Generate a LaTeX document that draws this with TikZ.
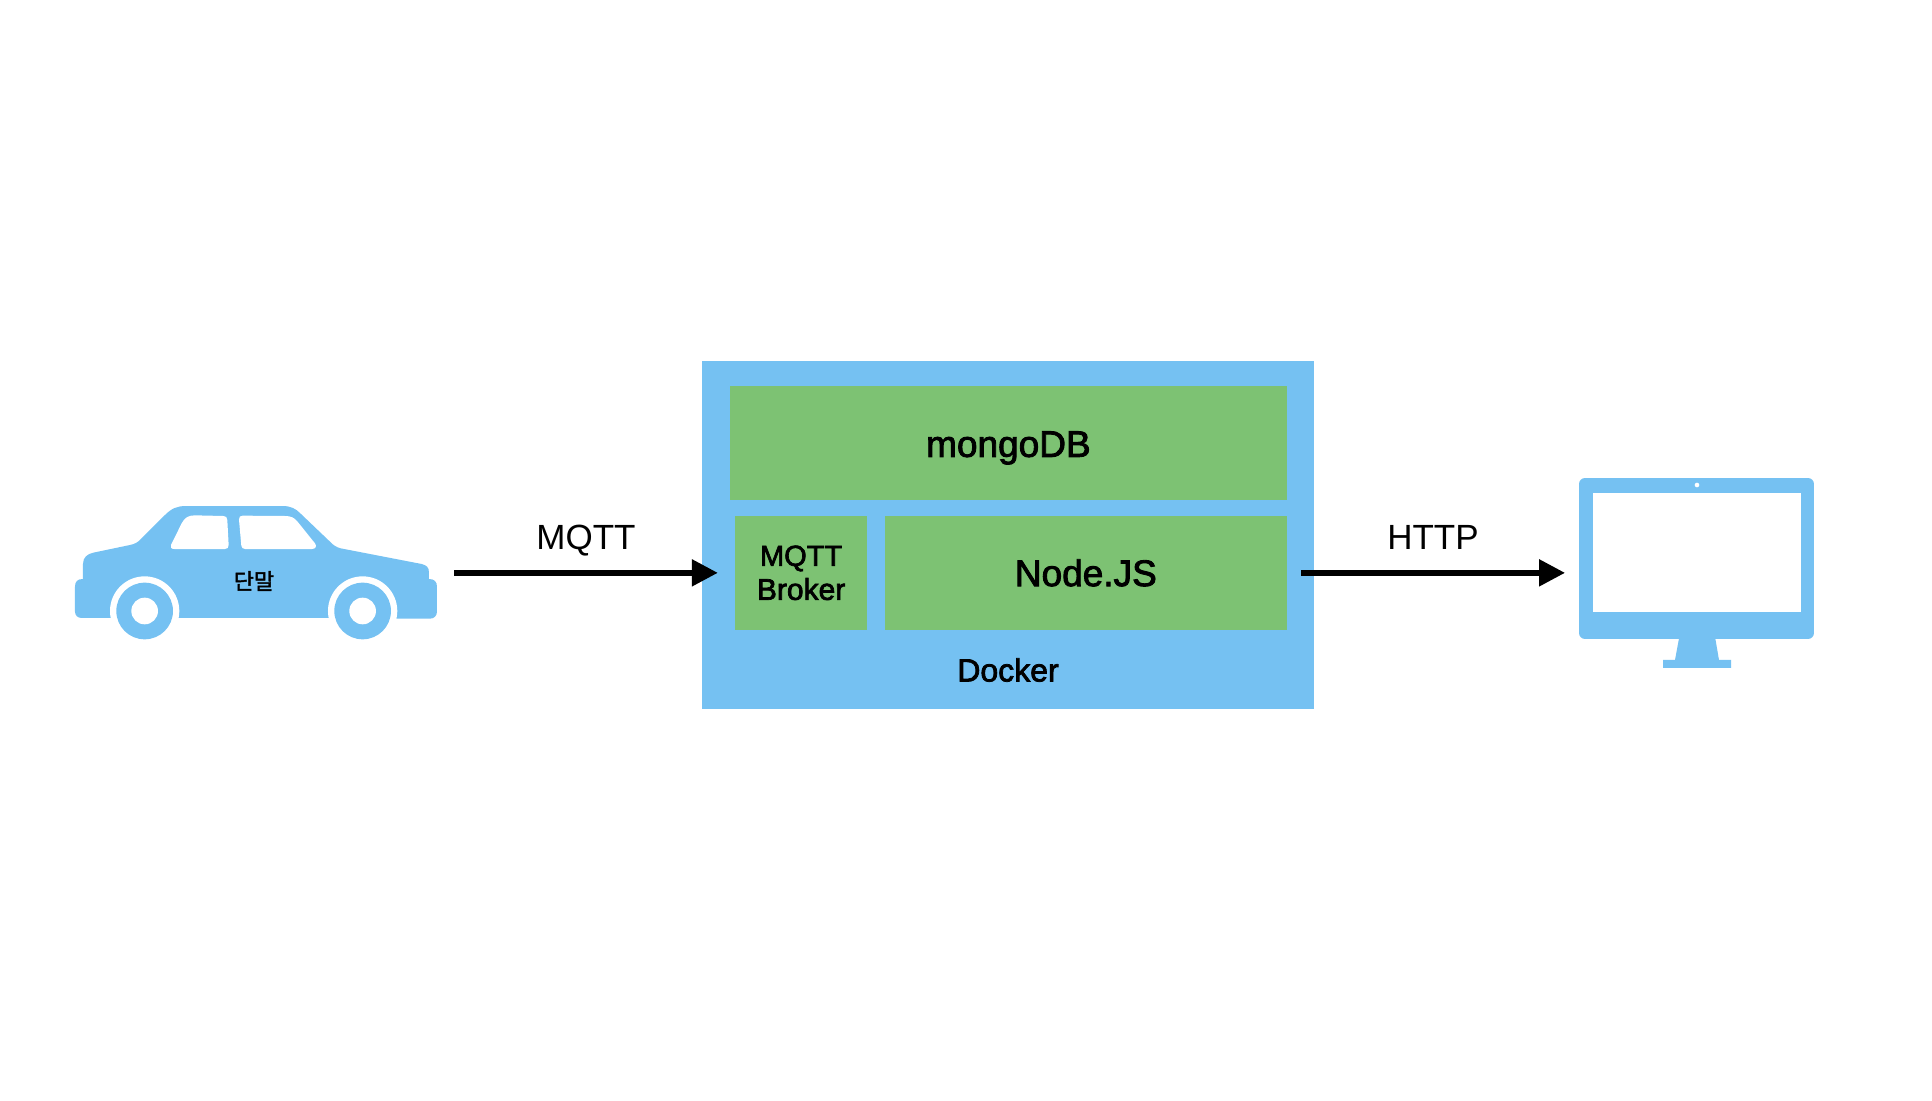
\documentclass[tikz,border=0pt]{standalone}
\usepackage{fontspec}
\usetikzlibrary{arrows.meta}
\setmainfont{Liberation Sans}
\newfontfamily\medfont[FakeBold=2.4]{Liberation Sans}
\newfontfamily\cjkfont[FakeBold=2]{Noto Sans CJK KR}
\definecolor{skyfill}{HTML}{75C1F2}
\definecolor{greenfill}{HTML}{7DC273}
\tikzset{
  panel/.style={fill=#1,draw=none,inner sep=0pt,outer sep=0pt,anchor=north west,text=black,align=center},
  ghost/.style={draw=none,fill=none,inner sep=0pt,outer sep=0pt,anchor=north west},
  label/.style={inner sep=0pt,outer sep=0pt,text=black,align=center},
  flow/.style={line width=5.3pt,draw=black,-{Triangle[length=26pt,width=26pt]}},
}
\begin{document}
\begin{tikzpicture}[x=1pt,y=-1pt]
\useasboundingbox[fill=white] (0,0) rectangle (1932,1100);
% Docker stack
\node[panel=skyfill,minimum width=611.5pt,minimum height=348pt] (docker) at (702.2,361) {};
\node[panel=greenfill,minimum width=556.8pt,minimum height=113.7pt,text height=28pt,text depth=0pt,font=\medfont\fontsize{37}{44}\selectfont] (mongo) at (730,386) {mongoDB};
\node[panel=greenfill,minimum width=132.2pt,minimum height=113.7pt,font=\medfont\fontsize{29}{34}\selectfont] (broker) at (735,516) {MQTT\\{\fontsize{30}{34}\selectfont Broker}};
\node[panel=greenfill,minimum width=401.9pt,minimum height=113.7pt,font=\medfont\fontsize{37}{44}\selectfont] (nodejs) at (884.9,516) {Node.JS};
\node[label,font=\medfont\fontsize{32}{38}\selectfont] (dockerlabel) at (1008,670) {Docker};
% Car
\node[ghost,minimum width=362pt,minimum height=134pt] (car) at (75,506) {};
\begin{scope}[shift={(60,490)},x=0.3333pt,y=-0.3333pt]
\fill[skyfill] (45,290) .. controls (45,275) and (52,267) .. (69,267) -- (69,222)
  .. controls (69,202) and (82,192) .. (100,188) -- (210,165)
  .. controls (225,162) and (233,157) .. (243,147) -- (315,75)
  .. controls (335,55) and (352,48) .. (378,48) -- (668,48)
  .. controls (692,48) and (708,56) .. (722,71) -- (810,155)
  .. controls (820,166) and (830,172) .. (842,175) -- (1085,222)
  .. controls (1100,226) and (1107,232) .. (1107,247) -- (1107,267)
  .. controls (1124,267) and (1131,276) .. (1131,290) -- (1131,365)
  .. controls (1131,378) and (1122,386) .. (1110,386) -- (908,386) -- (908,384) -- (65,384)
  .. controls (53,384) and (45,376) .. (45,365) -- cycle;
\fill[white] (333,165) -- (365,100) .. controls (374,83) and (385,76) .. (405,76) -- (490,78)
  .. controls (498,78) and (502,82) .. (502,90) -- (506,165)
  .. controls (506,173) and (502,177) .. (495,177) -- (343,177)
  .. controls (334,177) and (330,172) .. (333,165) -- cycle;
\fill[white] (537,88) .. controls (537,80) and (541,77) .. (548,77) -- (676,78)
  .. controls (692,78) and (703,83) .. (712,94) -- (765,160)
  .. controls (772,169) and (766,177) .. (756,177) -- (555,177)
  .. controls (548,177) and (545,173) .. (544,167) -- cycle;
\foreach \cx in {254,908}{
  \fill[white] (\cx,363) circle[radius=104];
  \fill[skyfill] (\cx,363) circle[radius=85];
  \fill[white] (\cx,363) circle[radius=40];
}
\end{scope}
\node[label,font=\cjkfont\fontsize{22}{26}\selectfont] (carlabel) at (254,581) {단말};
% Monitor
\node[ghost,minimum width=235pt,minimum height=190pt] (monitor) at (1579,478) {};
\begin{scope}[shift={(1560,460)},x=0.3333pt,y=-0.3333pt]
\fill[skyfill,rounded corners=6pt] (57,54) rectangle (762,537);
\fill[white] (99,99) rectangle (723,456);
\fill[white] (411,75) circle[radius=7];
\fill[skyfill] (358,530) -- (345,600) -- (309,600) -- (309,624) -- (513,624) -- (513,600) -- (477,600) -- (465,530) -- cycle;
\end{scope}
% Connectors
\draw[flow,shorten >=17.2pt] (broker.west -| car.east) ++(17,0) -- (broker.west);
\draw[flow,shorten <=14.2pt,shorten >=14pt] (nodejs.east) -- (nodejs.east -| monitor.west);
\node[label,font=\fontsize{35}{42}\selectfont] (mqttlabel) at (586,541) {MQTT};
\node[label,font=\fontsize{35}{42}\selectfont] (httplabel) at (1433,537) {HTTP};
\end{tikzpicture}
\end{document}
